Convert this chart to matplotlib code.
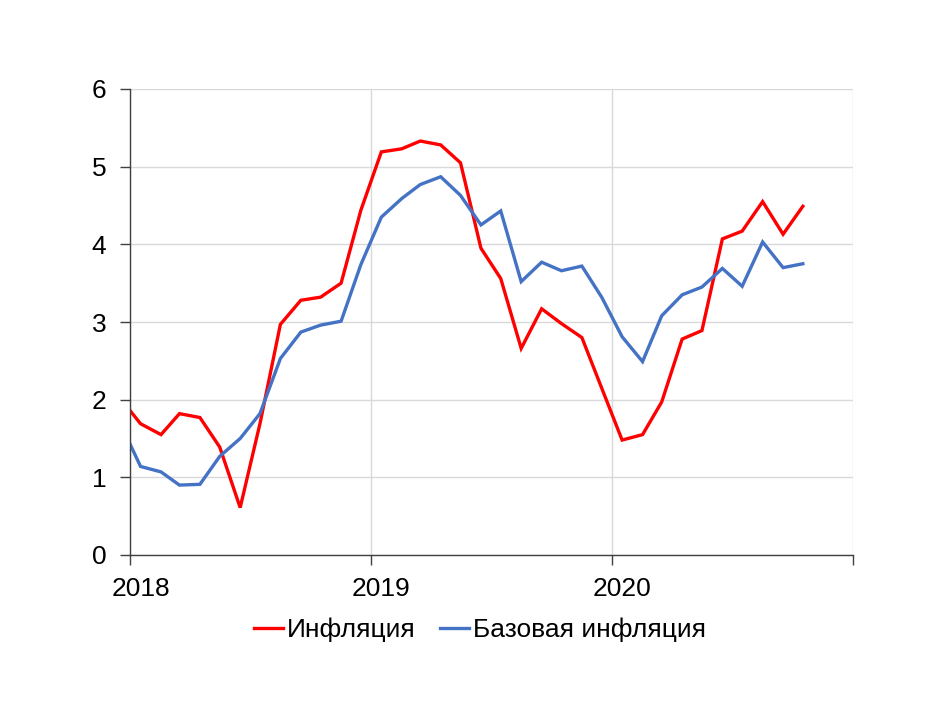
import matplotlib
matplotlib.use("Agg")
import matplotlib.pyplot as plt
import pandas as pd

plt.rcParams['font.family'] = ['Liberation Sans', 'DejaVu Sans']

# Monthly observations, Dec 2017 .. Oct 2020 (plotted at mid-month)
months = pd.date_range('2017-12-01', '2020-10-01', freq='MS') + pd.Timedelta(days=16)

inflation = [2.02,
             1.69, 1.55, 1.82, 1.77, 1.39, 0.61, 1.69, 2.97, 3.28, 3.32, 3.50, 4.44,
             5.19, 5.23, 5.33, 5.28, 5.05, 3.95, 3.56, 2.66, 3.17, 2.98, 2.80, 2.15,
             1.48, 1.55, 1.97, 2.78, 2.89, 4.07, 4.17, 4.55, 4.13, 4.49]
core_inflation = [1.70,
                  1.14, 1.07, 0.90, 0.91, 1.27, 1.50, 1.82, 2.53, 2.87, 2.96, 3.01, 3.74,
                  4.35, 4.59, 4.77, 4.87, 4.63, 4.25, 4.43, 3.52, 3.77, 3.66, 3.72, 3.32,
                  2.81, 2.49, 3.08, 3.35, 3.45, 3.69, 3.46, 4.03, 3.70, 3.75]

series_labels = ['Инфляция', 'Базовая инфляция']
year_ticks = ['2018', '2019', '2020', '2021']
year_labels = ['2018', '2019', '2020']
y_ticks = [0, 1, 2, 3, 4, 5, 6]

fig = plt.figure(figsize=(9.5, 7.12), dpi=100)
ax = fig.add_axes([130/950, 1-555/712, (853-130)/950, (555-89)/712])

ax.plot(months, inflation, color='#FF0000', lw=2.4, label=series_labels[0],
        solid_joinstyle='miter', zorder=3)
ax.plot(months, core_inflation, color='#4472C4', lw=2.4, label=series_labels[1],
        solid_joinstyle='miter', zorder=3)

tick_dates = pd.to_datetime([y + '-01-01' for y in year_ticks])
label_dates = pd.to_datetime([y + '-01-17' for y in year_labels])
ax.set_xlim(tick_dates[0], tick_dates[-1])
ax.set_ylim(0, 6)
ax.set_xticks(tick_dates)
ax.set_xticklabels([''] * len(tick_dates))
ax.set_xticks(label_dates, minor=True)
ax.set_xticklabels(year_labels, minor=True)
ax.set_yticks(y_ticks)

ax.grid(True, which='major', color='#D9D9D9', lw=1.0, zorder=0)
for s in ['top', 'right']:
    ax.spines[s].set_visible(False)
for s in ['left', 'bottom']:
    ax.spines[s].set_color('#404040')
    ax.spines[s].set_linewidth(1.0)
    ax.spines[s].set_zorder(4)

ax.tick_params(axis='both', which='major', direction='out', length=7, width=1.0,
               color='#404040', labelsize=19, labelcolor='black')
ax.tick_params(axis='x', which='minor', length=0, labelsize=19, pad=16)
ax.tick_params(axis='y', pad=10)

leg = fig.legend(loc='center', bbox_to_anchor=(480/950, 1-630/712), ncol=2,
                 frameon=False, fontsize=19, handlelength=1.1, handletextpad=0.15,
                 columnspacing=0.9)

fig.savefig('out.png', dpi=100)
